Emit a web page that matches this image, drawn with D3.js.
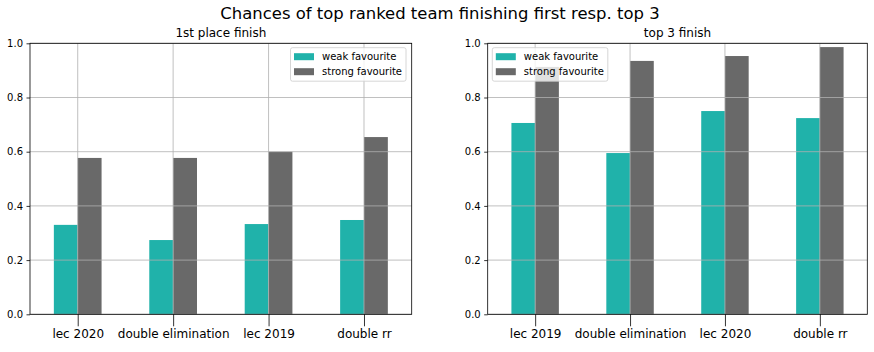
<!DOCTYPE html>
<html>
<head>
<meta charset="utf-8">
<script src="https://cdn.jsdelivr.net/npm/d3@7"></script>
<style>
  body { margin: 0; background: #fff; }
  text { font-family: "DejaVu Sans", sans-serif; fill: #000; }
</style>
</head>
<body>
<div id="chart-area"></div>
<script>
var seriesNames = ["weak favourite", "strong favourite"];
var seriesColors = ["#20b2aa", "#696969"];

var leftCategories = ["lec 2020", "double elimination", "lec 2019", "double rr"];
var leftWeak = [0.330, 0.274, 0.333, 0.348];
var leftStrong = [0.577, 0.577, 0.600, 0.654];

var rightCategories = ["lec 2019", "double elimination", "lec 2020", "double rr"];
var rightWeak = [0.706, 0.595, 0.750, 0.724];
var rightStrong = [0.913, 0.935, 0.953, 0.986];

var yTicks = [0, 0.2, 0.4, 0.6, 0.8, 1.0];

var W = 874, H = 352;
var plotTop = 43.3, plotBottom = 314.3;

var svg = d3.select("#chart-area")
    .append("svg")
    .attr("width", W)
    .attr("height", H);

svg.append("text")
    .attr("x", 440)
    .attr("y", 18.5)
    .attr("text-anchor", "middle")
    .attr("font-size", "16.45px")
    .text("Chances of top ranked team finishing first resp. top 3");

function drawPanel(left, right, title, categories, weak, strong, legendX) {
    var g = svg.append("g");
    var x = d3.scaleLinear().domain([-0.5, categories.length - 0.5]).range([left, right]);
    var y = d3.scaleLinear().domain([0, 1]).range([plotBottom, plotTop]);
    var unit = x(1) - x(0);
    var barW = unit * 0.25;

    var series = [weak, strong];
    series.forEach(function (vals, s) {
        g.selectAll(".bar" + s)
            .data(vals)
            .enter()
            .append("rect")
            .attr("x", (d, i) => x(i) + (s === 0 ? -barW : 0))
            .attr("y", d => y(d))
            .attr("width", barW)
            .attr("height", d => y(0) - y(d))
            .attr("fill", seriesColors[s]);
    });

    // grid drawn above the bars, as in the original
    g.selectAll(".hgrid")
        .data(yTicks)
        .enter()
        .append("line")
        .attr("x1", left).attr("x2", right)
        .attr("y1", d => y(d)).attr("y2", d => y(d))
        .attr("stroke", "#b0b0b0")
        .attr("stroke-width", 0.8);

    g.selectAll(".vgrid")
        .data(categories)
        .enter()
        .append("line")
        .attr("x1", (d, i) => x(i)).attr("x2", (d, i) => x(i))
        .attr("y1", plotTop).attr("y2", plotBottom)
        .attr("stroke", "#b0b0b0")
        .attr("stroke-width", 0.8);

    var yAxis = d3.axisLeft(y).tickValues(yTicks).tickFormat(d3.format(".1f")).tickSize(3.5).tickPadding(3.5);
    var ya = g.append("g").attr("transform", `translate(${left},0)`).call(yAxis);
    ya.select(".domain").remove();
    ya.selectAll("text").attr("font-size", "10px").style("font-family", "DejaVu Sans");
    ya.selectAll("line").attr("stroke", "#000").attr("stroke-width", 0.8);

    var xAxis = d3.axisBottom(x).tickValues(d3.range(categories.length))
        .tickFormat(i => categories[i]).tickSize(12).tickPadding(3.5);
    var xa = g.append("g").attr("transform", `translate(0,${plotBottom})`).call(xAxis);
    xa.select(".domain").remove();
    xa.selectAll("text").attr("font-size", "12px").style("font-family", "DejaVu Sans");
    xa.selectAll("line").attr("stroke", "#000").attr("stroke-width", 0.8);

    g.append("rect")
        .attr("x", left).attr("y", plotTop)
        .attr("width", right - left).attr("height", plotBottom - plotTop)
        .attr("fill", "none")
        .attr("stroke", "#000")
        .attr("stroke-width", 0.8);

    g.append("text")
        .attr("x", (left + right) / 2)
        .attr("y", 37)
        .attr("text-anchor", "middle")
        .attr("font-size", "12px")
        .text(title);

    var lg = g.append("g").attr("transform", `translate(${legendX},47.7)`);
    lg.append("rect")
        .attr("x", 0).attr("y", 0)
        .attr("width", 115.5).attr("height", 33.5)
        .attr("rx", 2)
        .attr("fill", "#fff").attr("fill-opacity", 0.8)
        .attr("stroke", "#cccccc").attr("stroke-width", 0.8);
    var row = lg.selectAll(".legend-row")
        .data(seriesNames)
        .enter()
        .append("g")
        .attr("transform", (d, i) => `translate(0,${9 + i * 15})`);
    row.append("rect")
        .attr("x", 3.5).attr("y", -3.5)
        .attr("width", 20).attr("height", 7)
        .attr("fill", (d, i) => seriesColors[i]);
    row.append("text")
        .attr("x", 31.5).attr("y", 3.6)
        .attr("font-size", "10px")
        .text(d => d);
}

drawPanel(30, 411.7, "1st place finish", leftCategories, leftWeak, leftStrong, 290.5);
drawPanel(487.7, 867.3, "top 3 finish", rightCategories, rightWeak, rightStrong, 492.3);
</script>
</body>
</html>
